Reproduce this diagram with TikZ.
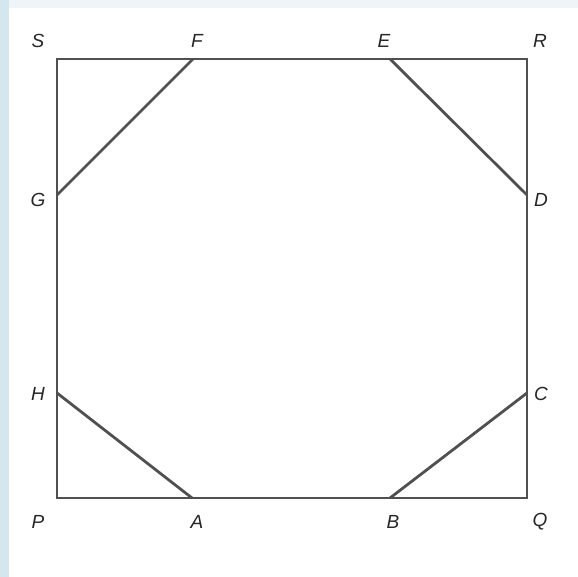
\documentclass[tikz,border=0pt]{standalone}
\usepackage{fontspec}
\setmainfont{Liberation Sans}
\usetikzlibrary{positioning}

\definecolor{edgegray}{HTML}{505050}
\definecolor{stripblue}{HTML}{D4E6EE}
\definecolor{paleblue}{HTML}{EEF4F8}

\begin{document}
\begin{tikzpicture}[x=1pt, y=-1pt,
    lbl/.style={font=\fontsize{19}{19}\selectfont\itshape, text=black!85, inner sep=0pt},
    side/.style={draw=edgegray, line width=2.8pt}]
  % background frame
  \fill[paleblue] (0,0) rectangle (578,577);
  \fill[stripblue] (0,0) rectangle (9,577);
  \fill[white] (9,8) rectangle (578,577);
  \useasboundingbox (0,0) rectangle (578,577);
  % corners and cut points
  \coordinate (P) at (57,498);
  \coordinate (Q) at (527,498);
  \coordinate (R) at (527,59);
  \coordinate (S) at (57,59);
  \coordinate (A) at (192,498);
  \coordinate (B) at (390,498);
  \coordinate (C) at (527,393);
  \coordinate (D) at (527,195);
  \coordinate (E) at (390,59);
  \coordinate (F) at (193,59);
  \coordinate (G) at (57,195);
  \coordinate (H) at (57,393);
  \draw[side] (P) -- (Q) -- (R) -- (S) -- cycle;
  \draw[side] (F) -- (G);
  \draw[side] (E) -- (D);
  \draw[side] (H) -- (A);
  \draw[side] (B) -- (C);
  % labels
  \node[lbl] (lS) at (38,41) {S};
  \node[lbl] (lF) at (197,41) {F};
  \node[lbl] (lE) at (384,41) {E};
  \node[lbl] (lR) at (540,41) {R};
  \node[lbl] (lG) at (38,200) {G};
  \node[lbl] (lD) at (541,200) {D};
  \node[lbl] (lH) at (38,394) {H};
  \node[lbl] (lC) at (541,394) {C};
  \node[lbl] (lP) at (38,522) {P};
  \node[lbl] (lA) at (197,522) {A};
  \node[lbl] (lB) at (393,522) {B};
  \node[lbl] (lQ) at (540,522) {Q};
\end{tikzpicture}
\end{document}
